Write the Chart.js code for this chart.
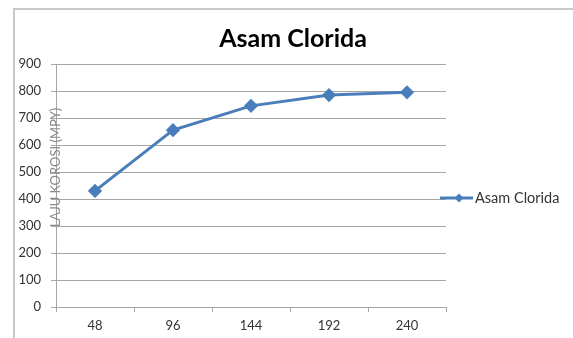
<!DOCTYPE html>
<html>
<head>
<meta charset="utf-8">
<script src="https://cdn.jsdelivr.net/npm/chart.js@4"></script>
<style>
  html, body { margin: 0; padding: 0; background: #fff; }
  #wrap { position: relative; width: 573px; height: 338px; overflow: hidden; }
  #frame { position: absolute; left: 13px; top: 8px; width: 600px; height: 400px;
           border-left: 2px solid #c8c8c8; border-top: 2px solid #c8c8c8; box-sizing: border-box; }
  canvas { position: absolute; left: 0; top: 0; }
</style>
</head>
<body>
<div id="wrap">
  <div id="frame"></div>
  <canvas id="chart" width="573" height="338"></canvas>
</div>
<script>
// data
var waktu = ['48', '96', '144', '192', '240'];
var asamClorida = [430, 655, 745, 785, 795];
var seriesName = 'Asam Clorida';
var yTitle = 'LAJU KOROSI (MPY)';

var lineColor = '#4a7ebb';
var gridColor = '#a6a6a6';
var textColor = '#333333';

// legend + y title drawn by hand, like excel places them
var sidePlugin = {
    id: 'sideBits',
    afterDraw(chart) {
        var ctx = chart.ctx;
        var area = chart.chartArea;
        ctx.save();
        // y axis title, sits on the axis
        ctx.translate(area.left, (area.top + area.bottom) / 2 - 18);
        ctx.rotate(-Math.PI / 2);
        ctx.font = '13px Lato';
        ctx.fillStyle = '#8a8a8a';
        ctx.textAlign = 'center';
        ctx.textBaseline = 'middle';
        ctx.fillText(yTitle, 0, 0);
        ctx.restore();

        // legend
        var lx = area.right - 6, ly = 198;
        ctx.save();
        ctx.strokeStyle = lineColor;
        ctx.lineWidth = 3;
        ctx.beginPath();
        ctx.moveTo(lx, ly);
        ctx.lineTo(lx + 33, ly);
        ctx.stroke();
        ctx.fillStyle = lineColor;
        ctx.beginPath();
        ctx.moveTo(lx + 19, ly - 4.5);
        ctx.lineTo(lx + 23.5, ly);
        ctx.lineTo(lx + 19, ly + 4.5);
        ctx.lineTo(lx + 14.5, ly);
        ctx.closePath();
        ctx.fill();
        ctx.font = '14.5px Lato';
        ctx.fillStyle = textColor;
        ctx.textBaseline = 'middle';
        ctx.fillText(seriesName, lx + 35, ly);
        ctx.restore();
    }
};

var ctx = document.getElementById('chart').getContext('2d');
var chart = new Chart(ctx, {
    type: 'line',
    data: {
        labels: waktu,
        datasets: [{
            label: seriesName,
            data: asamClorida,
            borderColor: lineColor,
            backgroundColor: lineColor,
            borderWidth: 3,
            pointStyle: 'rectRot',
            pointRadius: 5,
            pointHoverRadius: 5,
            tension: 0,
            yAxisID: 'y'
        }]
    },
    options: {
        responsive: false,
        animation: false,
        layout: { padding: { left: 13, right: 0, top: 0, bottom: 0 } },
        plugins: {
            legend: { display: false },
            tooltip: { enabled: false },
            title: {
                display: true,
                text: 'Asam Clorida',
                color: '#000',
                font: { family: 'Lato', size: 25, weight: 'bold', lineHeight: 1.2 },
                padding: { top: 24, bottom: 10 }
            }
        },
        scales: {
            x: {
                offset: true,
                grid: { offset: true, drawOnChartArea: false, drawTicks: true, tickLength: 5, color: gridColor },
                border: { display: true, color: gridColor, width: 1 },
                ticks: { color: textColor, font: { family: 'Lato', size: 13 }, padding: 6 },
                afterFit(scale) { scale.height = 31; }
            },
            y: {
                min: 0,
                max: 900,
                grid: { color: gridColor, tickLength: 5 },
                border: { display: true, color: gridColor, width: 1 },
                ticks: { stepSize: 100, color: textColor, font: { family: 'Lato', size: 13 }, padding: 10 },
                afterFit(scale) { scale.width = 43; }
            },
            space: {
                position: 'right',
                display: true,
                grid: { display: false },
                border: { display: false },
                ticks: { display: false },
                afterFit(scale) { scale.width = 127; }
            }
        }
    },
    plugins: [sidePlugin]
});
</script>
</body>
</html>
